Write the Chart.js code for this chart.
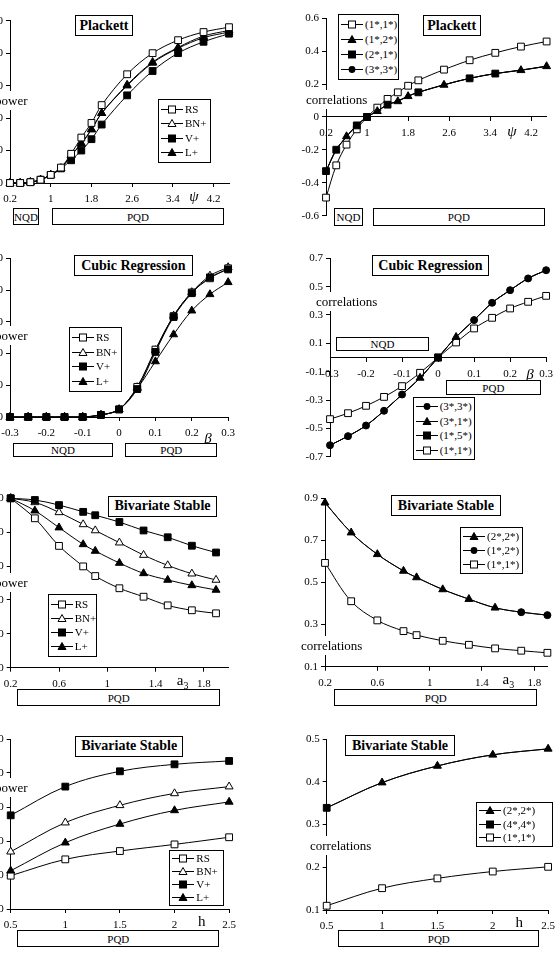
<!DOCTYPE html>
<html>
<head>
<meta charset="utf-8">
<script src="https://cdn.jsdelivr.net/npm/chart.js@4.4.0/dist/chart.umd.min.js"></script>
<style>
html, body { margin: 0; padding: 0; background: #fff; }
#page { position: relative; width: 557px; height: 954px; overflow: hidden; font-family: 'Liberation Serif', 'Times New Roman', serif; color: #000; }
canvas { position: absolute; }
.box { position: absolute; box-sizing: border-box; border: 1px solid #000; background: #fff; display: flex; align-items: center; justify-content: center; font-size: 11px; white-space: nowrap; }
.title { font-weight: bold; font-size: 14px; }
.lab { position: absolute; background: #fff; font-size: 13px; line-height: 19px; height: 19px; white-space: nowrap; }
.sym { position: absolute; font-size: 15px; transform: translate(-50%, -50%); white-space: nowrap; }
.leg { position: absolute; box-sizing: border-box; border: 1px solid #000; background: #fff; padding: 1px 2px; font-size: 11px; display: flex; flex-direction: column; justify-content: space-evenly; }
.row { display: flex; align-items: center; height: 13px; line-height: 13px; white-space: nowrap; }
.row svg { margin-right: 2px; flex: none; }
</style>
</head>
<body>
<div id="page"></div>
<script>
// Plackett (psi)
const psi = [0.2, 0.4, 0.6, 0.8, 1, 1.2, 1.4, 1.6, 1.8, 2, 2.5, 3, 3.5, 4, 4.5];
const plRS = [0, 0, 0.5, 2, 5, 9.5, 18, 28, 37, 48, 67, 80, 88, 93, 96];
const plBN = [0, 0, 0.5, 2, 5, 9, 17, 24.5, 33, 43, 60.5, 74.5, 83.5, 90.5, 94];
const plV = [0, 0, 0.5, 2, 5, 9, 14, 20, 27, 36, 54, 69, 80, 87, 92];
const plL = [0, 0, 0.5, 2, 5, 9, 17, 24, 33, 43, 60, 74, 83, 89.5, 93];
const pc11 = [-0.49, -0.294, -0.168, -0.075, 0, 0.057, 0.11, 0.15, 0.19, 0.223, 0.288, 0.345, 0.39, 0.428, 0.459];
const pc12 = [-0.33, -0.2, -0.118, -0.05, 0, 0.035, 0.075, 0.095, 0.126, 0.15, 0.195, 0.235, 0.264, 0.284, 0.308];
const pc21 = [-0.329, -0.199, -0.12, -0.051, 0, 0.036, 0.075, 0.097, 0.127, 0.15, 0.196, 0.235, 0.264, 0.285, 0.309];
const pc33 = [-0.329, -0.199, -0.12, -0.051, 0, 0.036, 0.075, 0.097, 0.127, 0.15, 0.196, 0.235, 0.264, 0.285, 0.309];

// Cubic regression (beta)
const beta = [-0.3, -0.25, -0.2, -0.15, -0.1, -0.05, 0, 0.05, 0.1, 0.15, 0.2, 0.25, 0.3];
const cuRS = [0, 0, 0, 0, 0, 1.3, 4.8, 19, 42.5, 63.6, 78.5, 87.4, 93.7];
const cuBN = [0, 0, 0, 0, 0, 1.3, 4.8, 18.7, 42, 63.8, 78.6, 89, 94.3];
const cuV = [0, 0, 0, 0, 0, 1.3, 4.8, 17.6, 41, 63, 78, 88, 93];
const cuL = [0, 0, 0, 0, 0, 1.3, 4.8, 18, 35, 52, 67, 77.3, 84.9];
const cc33 = [-0.619, -0.555, -0.48, -0.376, -0.261, -0.144, 0, 0.144, 0.264, 0.386, 0.475, 0.558, 0.616];
const cc31 = [-0.619, -0.555, -0.48, -0.376, -0.261, -0.144, 0, 0.144, 0.264, 0.386, 0.475, 0.558, 0.616];
const cc15 = [-0.619, -0.555, -0.48, -0.376, -0.261, -0.144, 0, 0.144, 0.264, 0.386, 0.475, 0.558, 0.616];
const cc11 = [-0.435, -0.393, -0.341, -0.278, -0.202, -0.108, 0, 0.106, 0.205, 0.28, 0.346, 0.393, 0.435];

// Bivariate stable (a3)
const a3 = [0.2, 0.4, 0.6, 0.8, 0.9, 1.1, 1.3, 1.5, 1.7, 1.9];
const bsRS = [100, 88.2, 71.9, 59.8, 54.1, 46.9, 41.9, 36.8, 33.9, 32.1];
const bsBN = [100, 97.6, 91.7, 84.6, 81, 73.8, 66.5, 60.4, 55.5, 51.8];
const bsV = [100, 99, 96, 92, 90, 86, 81, 77, 72, 68];
const bsL = [100, 92.7, 82.7, 72.8, 68.9, 61.8, 55.7, 51.8, 48.6, 45.9];
const sc22 = [0.879, 0.737, 0.634, 0.555, 0.524, 0.467, 0.421, 0.38, 0.359, 0.345];
const sc12 = [0.879, 0.737, 0.634, 0.555, 0.524, 0.467, 0.421, 0.38, 0.359, 0.345];
const sc11 = [0.593, 0.411, 0.32, 0.269, 0.25, 0.223, 0.204, 0.187, 0.176, 0.166];

// Bivariate stable (h)
const hv = [0.5, 1, 1.5, 2, 2.5];
const bhRS = [19.6, 29.2, 34.1, 38, 42.2];
const bhBN = [33.7, 50.8, 61, 68, 72];
const bhV = [55.1, 72, 81, 85.1, 87.1];
const bhL = [22.5, 39, 50, 58, 63];
const hc22 = [0.339, 0.398, 0.437, 0.463, 0.477];
const hc44 = [0.339, 0.398, 0.437, 0.463, 0.477];
const hc11 = [0.11, 0.151, 0.174, 0.19, 0.201];

// tick labels
const psiTicks = [0.2, 1, 1.8, 2.6, 3.4, 4.2];
const betaTicks = [-0.3, -0.2, -0.1, 0, 0.1, 0.2, 0.3];
const a3Ticks = [0.2, 0.6, 1, 1.4, 1.8];
const hTicks = [0.5, 1, 1.5, 2, 2.5];
const powerTicks = [0, 20, 40, 60, 80, 100];
const plCorrTicks = [-0.6, -0.4, -0.2, 0, 0.2, 0.4, 0.6];
const cuCorrTicks = [-0.7, -0.5, -0.3, -0.1, 0.1, 0.3, 0.5, 0.7];
const bsCorrTicks = [0.1, 0.3, 0.5, 0.7, 0.9];
const bhCorrTicks = [0.1, 0.2, 0.3, 0.4, 0.5];

const page = document.getElementById('page');
Chart.defaults.font.family = "'Liberation Serif', 'Times New Roman', serif";
Chart.defaults.font.size = 11;
Chart.defaults.color = '#000';

const MARKS = {
    openSq: { style: 'rect', r: 4.8, fill: '#fff' },
    sq: { style: 'rect', r: 4.8, fill: '#000' },
    openTri: { style: 'triangle', r: 4.6, fill: '#fff' },
    tri: { style: 'triangle', r: 4.6, fill: '#000' },
    dot: { style: 'circle', r: 3.5, fill: '#000' },
};

// showAt: x values where the marker is not covered by another series
function series(xs, ys, mark, showAt) {
    const m = MARKS[mark];
    return {
        data: xs.map((x, i) => ({ x: x, y: ys[i] })),
        borderColor: '#000',
        borderWidth: 1,
        tension: 0.35,
        clip: false,
        pointStyle: m.style,
        pointRadius: showAt ? xs.map((x) => (showAt.includes(x) ? m.r : 0)) : m.r,
        pointHoverRadius: m.r,
        pointBackgroundColor: m.fill,
        pointBorderColor: '#000',
        pointBorderWidth: 1,
    };
}

function axisOpts(range, ticks, position, fit, pad) {
    return {
        type: 'linear',
        position: position,
        min: range[0],
        max: range[1],
        afterBuildTicks: (s) => { s.ticks = ticks.map((v) => ({ value: v })); },
        afterFit: fit,
        grid: { drawOnChartArea: false, drawTicks: true, tickLength: 4, color: '#000', lineWidth: 1 },
        border: { display: true, color: '#000', width: 1 },
        ticks: { padding: pad, color: '#000', autoSkip: false, maxRotation: 0, callback: (v) => String(v) },
    };
}

// area = page coordinates of the plot area
function panel(area, xr, yr, xTicks, yTicks, datasets, xAtZero) {
    const cl = Math.round(area.x0) - 50;
    const ct = Math.round(area.y0) - 10;
    const w = Math.ceil(area.x1 - cl + 12);
    const h = Math.ceil(area.y1 - ct + 32);
    const c = document.createElement('canvas');
    c.width = w;
    c.height = h;
    c.style.left = cl + 'px';
    c.style.top = ct + 'px';
    c.style.width = w + 'px';
    c.style.height = h + 'px';
    page.appendChild(c);
    const axisH = h - (area.y1 - ct);
    new Chart(c, {
        type: 'line',
        data: { datasets: datasets },
        options: {
            responsive: false,
            animation: false,
            devicePixelRatio: 1,
            layout: { padding: { left: 0, top: area.y0 - ct, right: w - (area.x1 - cl), bottom: xAtZero ? axisH : 0 } },
            plugins: { legend: { display: false }, tooltip: { enabled: false } },
            scales: {
                x: axisOpts(xr, xTicks, xAtZero ? { y: 0 } : 'bottom', (s) => { s.height = xAtZero ? 0 : axisH; }, 6),
                y: axisOpts(yr, yTicks, 'left', (s) => { s.width = area.x0 - cl; }, 3),
            },
        },
    });
}

function el(cls, html, css) {
    const d = document.createElement('div');
    d.className = cls;
    d.innerHTML = html;
    Object.assign(d.style, css);
    page.appendChild(d);
    return d;
}

function box(x0, y0, x1, y1, text, extra) {
    el('box' + (extra ? ' ' + extra : ''), text, {
        left: x0 + 'px', top: y0 + 'px', width: (x1 - x0) + 'px', height: (y1 - y0) + 'px',
    });
}

function lab(x, cy, text) {
    el('lab', text, { left: x + 'px', top: (cy - 9.5) + 'px' });
}

function sym(x, y, html, italic) {
    el('sym', html, { left: x + 'px', top: y + 'px', fontStyle: italic ? 'italic' : 'normal' });
}

function svgMark(key) {
    const m = MARKS[key];
    let shape;
    if (m.style === 'rect') {
        shape = '<rect x="7.5" y="3" width="7" height="7" fill="' + m.fill + '" stroke="#000"/>';
    } else if (m.style === 'triangle') {
        shape = '<polygon points="11,2.5 15,9.5 7,9.5" fill="' + m.fill + '" stroke="#000"/>';
    } else {
        shape = '<circle cx="11" cy="6.5" r="3.4" fill="#000"/>';
    }
    return '<svg width="22" height="13"><line x1="0" y1="6.5" x2="22" y2="6.5" stroke="#000"/>' + shape + '</svg>';
}

function legend(x0, y0, x1, y1, items) {
    const rows = items.map((it) => '<div class="row">' + svgMark(it[0]) + '<span>' + it[1] + '</span></div>').join('');
    el('leg', rows, { left: x0 + 'px', top: y0 + 'px', width: (x1 - x0) + 'px', height: (y1 - y0) + 'px' });
}

const powerLegend = [['openSq', 'RS'], ['openTri', 'BN+'], ['sq', 'V+'], ['tri', 'L+']];

// 1: Plackett power
panel({ x0: 10, x1: 229, y0: 20.7, y1: 183 }, [0.2, 4.5], [0, 100], psiTicks, powerTicks, [
    series(psi, plRS, 'openSq'),
    series(psi, plL, 'tri'),
    series(psi, plV, 'sq'),
    series(psi, plBN, 'openTri'),
]);

// 2: Plackett correlations
panel({ x0: 326, x1: 546.6, y0: 18.3, y1: 215.7 }, [0.2, 4.5], [-0.6, 0.6], psiTicks, plCorrTicks, [
    series(psi, pc21, 'sq', [0.2, 0.4, 0.8, 1, 1.4, 2, 3, 3.5]),
    series(psi, pc12, 'tri', [0.6, 1.2, 1.6, 1.8, 2.5, 4, 4.5]),
    series(psi, pc11, 'openSq'),
    series(psi, pc33, 'dot', []),
], true);

// 3: Cubic regression power
panel({ x0: 10, x1: 228.3, y0: 258.3, y1: 417 }, [-0.3, 0.3], [0, 100], betaTicks, powerTicks, [
    series(beta, cuV, 'sq'),
    series(beta, cuRS, 'openSq'),
    series(beta, cuBN, 'openTri'),
    series(beta, cuL, 'tri'),
]);

// 4: Cubic regression correlations
panel({ x0: 330, x1: 546.7, y0: 258.3, y1: 456.7 }, [-0.3, 0.3], [-0.7, 0.7], betaTicks, cuCorrTicks, [
    series(beta, cc15, 'sq', [0]),
    series(beta, cc31, 'tri', [-0.05, 0.05]),
    series(beta, cc33, 'dot', [-0.3, -0.25, -0.2, -0.15, -0.1, 0.1, 0.15, 0.2, 0.25, 0.3]),
    series(beta, cc11, 'openSq'),
], true);

// 5: Bivariate stable power vs a3
panel({ x0: 10.7, x1: 228.1, y0: 498.3, y1: 667.7 }, [0.2, 2.0], [0, 100], a3Ticks, powerTicks, [
    series(a3, bsV, 'sq'),
    series(a3, bsBN, 'openTri'),
    series(a3, bsL, 'tri'),
    series(a3, bsRS, 'openSq'),
]);

// 6: Bivariate stable correlations vs a3
panel({ x0: 325, x1: 547.4, y0: 498.3, y1: 666.7 }, [0.2, 1.9], [0.1, 0.9], a3Ticks, bsCorrTicks, [
    series(a3, sc22, 'tri', [0.2, 0.4, 0.6, 0.8, 0.9, 1.1, 1.3, 1.5]),
    series(a3, sc12, 'dot', [1.7, 1.9]),
    series(a3, sc11, 'openSq'),
]);

// 7: Bivariate stable power vs h
panel({ x0: 10.7, x1: 230, y0: 739, y1: 909 }, [0.5, 2.5], [0, 100], hTicks, powerTicks, [
    series(hv, bhV, 'sq'),
    series(hv, bhBN, 'openTri'),
    series(hv, bhL, 'tri'),
    series(hv, bhRS, 'openSq'),
]);

// 8: Bivariate stable correlations vs h
panel({ x0: 326.7, x1: 549, y0: 739, y1: 910 }, [0.5, 2.5], [0.1, 0.5], hTicks, bhCorrTicks, [
    series(hv, hc44, 'sq', [0.5]),
    series(hv, hc22, 'tri', [1, 1.5, 2, 2.5]),
    series(hv, hc11, 'openSq'),
]);

// annotations
box(75, 15, 133, 36, 'Plackett', 'title');
lab(-5, 100, 'power');
sym(194, 196, '\u03c8', true);
box(12.7, 208, 39.3, 225, 'NQD');
box(51.7, 208, 224.3, 225, 'PQD');
legend(158, 99, 211, 163, powerLegend);

box(422.7, 15, 480.7, 36, 'Plackett', 'title');
lab(306, 99, 'correlations');
sym(512, 131, '\u03c8', true);
box(334.3, 208, 362.7, 225.7, 'NQD');
box(372.7, 208, 545, 225.7, 'PQD');
legend(338, 14, 399, 80, [['openSq', '(1*,1*)'], ['tri', '(1*,2*)'], ['sq', '(2*,1*)'], ['dot', '(3*,3*)']]);

box(74, 255, 192.7, 276, 'Cubic Regression', 'title');
lab(-5, 335.7, 'power');
sym(208, 438, '\u03b2', true);
box(13.3, 443, 112.7, 457.3, 'NQD');
box(125.3, 443, 217.3, 457.3, 'PQD');
legend(69, 327.3, 121.7, 391.7, powerLegend);

box(371.7, 255, 489.3, 276, 'Cubic Regression', 'title');
lab(316, 301, 'correlations');
sym(530, 374, '\u03b2', true);
box(335.7, 336.7, 429.3, 351, 'NQD');
box(445.7, 380, 541, 395.3, 'PQD');
legend(412.7, 396.7, 475, 460, [['dot', '(3*,3*)'], ['tri', '(3*,1*)'], ['sq', '(1*,5*)'], ['openSq', '(1*,1*)']]);

box(108.3, 496, 216.7, 516.7, 'Bivariate Stable', 'title');
lab(-5, 582.3, 'power');
sym(182.7, 681, 'a<sub style="font-size:10px">3</sub>', false);
box(17.3, 689, 220, 706, 'PQD');
legend(47.7, 594.3, 96.7, 656.7, powerLegend);

box(391, 495, 500.7, 516, 'Bivariate Stable', 'title');
lab(301, 645.7, 'correlations');
sym(508.3, 680, 'a<sub style="font-size:10px">3</sub>', false);
box(334.3, 689, 537.3, 706, 'PQD');
legend(460, 526.7, 522.7, 574, [['tri', '(2*,2*)'], ['dot', '(1*,2*)'], ['openSq', '(1*,1*)']]);

box(75, 736, 183.3, 756.7, 'Bivariate Stable', 'title');
lab(-5, 787.7, 'power');
sym(201.7, 921, 'h', false);
box(17.3, 930, 219.3, 947, 'PQD');
legend(169.3, 850, 224.3, 905.7, powerLegend);

box(345, 735, 455, 756, 'Bivariate Stable', 'title');
lab(310, 845, 'correlations');
sym(519.3, 922, 'h', false);
box(338.3, 930, 539.3, 947, 'PQD');
legend(476, 801.7, 552.7, 846.7, [['tri', '(2*,2*)'], ['sq', '(4*,4*)'], ['openSq', '(1*,1*)']]);
</script>
</body>
</html>
